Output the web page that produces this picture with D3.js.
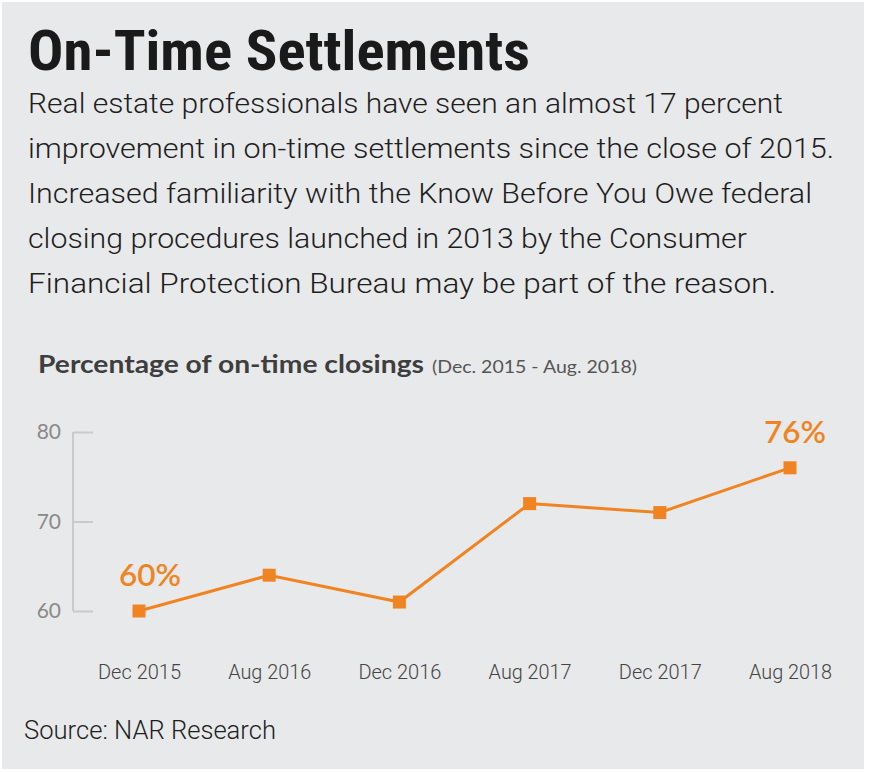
<!DOCTYPE html>
<html><head><meta charset="utf-8">
<script src="https://cdn.jsdelivr.net/npm/d3@7"></script>
<style>body{margin:0;background:#fff;} svg{display:block;}</style>
</head><body>
<svg id="chart" width="869" height="772"></svg>
<script>
const categories = ["Dec 2015","Aug 2016","Dec 2016","Aug 2017","Dec 2017","Aug 2018"];
const values = [60, 64, 61, 72, 71, 76];
const yTicks = [60, 70, 80];
const title = "On-Time Settlements";
const subtitleLines = [
  "Real estate professionals have seen an almost 17 percent",
  "improvement in on-time settlements since the close of 2015.",
  "Increased familiarity with the Know Before You Owe federal",
  "closing procedures launched in 2013 by the Consumer",
  "Financial Protection Bureau may be part of the reason."
];
const subtitleWidths = [755, 806, 784, 719, 748];
const chartTitle = "Percentage of on-time closings";
const chartRange = "(Dec. 2015 - Aug. 2018)";
const source = "Source: NAR Research";
const highlight = [{i:0, label:"60%"}, {i:5, label:"76%"}];

const cond = "'Roboto Condensed','Liberation Sans Narrow','Arial Narrow','Liberation Sans',sans-serif";
const light = "Roboto, 'Noto Sans', sans-serif";
const orange = "#f08423";
const svg = d3.select("#chart");
svg.append("rect").attr("x",2).attr("y",2).attr("width",862).attr("height",767).attr("fill","#e8e9ea");

svg.append("text").attr("x",28).attr("y",70).text(title)
  .attr("font-family",cond).attr("font-weight","bold").attr("font-size",56).attr("fill","#1a1a1a")
  .attr("textLength",502).attr("lengthAdjust","spacingAndGlyphs");

subtitleLines.forEach((t,k)=>{
  svg.append("text").attr("x",28).attr("y",113+k*45).text(t)
    .attr("font-family",light).attr("font-weight",300).attr("font-size",27.5).attr("fill","#1e1e1e")
    .attr("textLength",subtitleWidths[k]).attr("lengthAdjust","spacingAndGlyphs");
});

svg.append("text").attr("x",38).attr("y",373).text(chartTitle)
  .attr("font-family","Lato, 'Noto Sans', sans-serif").attr("font-weight","bold").attr("font-size",24.5).attr("fill","#3e3e3e")
  .attr("textLength",386).attr("lengthAdjust","spacingAndGlyphs");
svg.append("text").attr("x",432).attr("y",373).text(chartRange)
  .attr("font-family","Lato, 'Noto Sans', sans-serif").attr("font-size",17).attr("fill","#555")
  .attr("textLength",205).attr("lengthAdjust","spacingAndGlyphs");

const x = d3.scalePoint().domain(categories).range([139, 790]);
const y = d3.scaleLinear().domain([60, 80]).range([611, 432]);

// y axis
const yAxis = svg.append("g").attr("transform","translate(73,0)")
  .call(d3.axisRight(y).tickValues(yTicks).tickSize(20).tickFormat(""));
yAxis.selectAll("path,line").attr("stroke","#c9cacb").attr("stroke-width",2);
yAxis.select(".domain").attr("d", `M0,${y(80)}V${y(60)}`);
svg.selectAll(".ylab").data(yTicks).enter().append("text")
  .attr("x",61).attr("y",d=>y(d)+7).attr("text-anchor","end").text(d=>d)
  .attr("font-family","Lato, 'Noto Sans', sans-serif").attr("font-size",21).attr("fill","#8a8a8a");

// x labels
const xAxis = svg.append("g").attr("transform","translate(0,669)")
  .call(d3.axisBottom(x).tickSize(0).tickPadding(0));
xAxis.select(".domain").remove();
xAxis.selectAll("text").attr("font-family",light).attr("font-weight",300).attr("font-size",20).attr("fill","#444").attr("dy","0.5em")
  .attr("textLength",83).attr("lengthAdjust","spacingAndGlyphs");

// line
const line = d3.line().x((d,i)=>x(categories[i])).y(d=>y(d));
svg.append("path").datum(values).attr("d",line).attr("fill","none").attr("stroke",orange).attr("stroke-width",3);
svg.selectAll(".pt").data(values).enter().append("rect")
  .attr("x",(d,i)=>x(categories[i])-6.5).attr("y",d=>y(d)-6.5).attr("width",13).attr("height",13).attr("fill",orange);

highlight.forEach(h=>{
  svg.append("text").attr("x",x(categories[h.i]) + (h.i===0?11:5)).attr("y",y(values[h.i])-25)
    .attr("text-anchor","middle").text(h.label)
    .attr("font-family","Lato, 'Noto Sans', sans-serif").attr("font-weight",600).attr("font-size",30).attr("fill",orange)
    .attr("textLength",62).attr("lengthAdjust","spacingAndGlyphs");
});

svg.append("text").attr("x",24).attr("y",739).text(source)
  .attr("font-family",light).attr("font-weight",300).attr("font-size",25).attr("fill","#1e1e1e")
  .attr("textLength",252).attr("lengthAdjust","spacingAndGlyphs");
</script>
</body></html>
